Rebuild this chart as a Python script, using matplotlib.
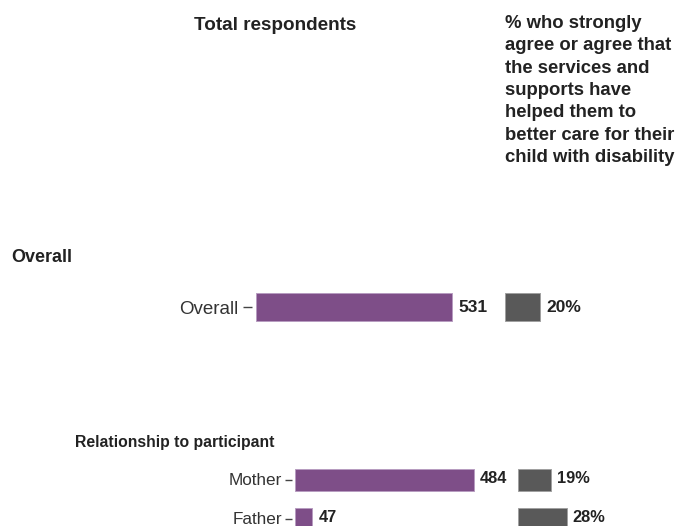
import matplotlib
matplotlib.use("Agg")
import matplotlib.pyplot as plt
from matplotlib.transforms import ScaledTranslation

# ---- data ----
overall_cats = ["Overall"]
overall_counts = [531]
overall_pct = [20]
rel_cats = ["Mother", "Father"]
rel_counts = [484, 47]
rel_pct = [19, 28]

W, H = 681, 526
PURPLE = "#7E4E88"
GRAY = "#595959"
TXT = "#222222"
FONT = "Liberation Sans"

fig = plt.figure(figsize=(W / 100, H / 100), dpi=100)
fig.patch.set_facecolor("white")


def rect(left, top, width, height):
    return [left / W, 1 - (top + height) / H, width / W, height / H]


COUNT_SCALE = 0.369  # px per respondent
PCT_SCALE = 1.74     # px per percent


def make_axes(left, top, n, row_px, xmax, scale):
    ax = fig.add_axes(rect(left, top, xmax * scale, n * row_px))
    ax.set_xlim(0, xmax)
    ax.set_ylim(n - 0.5, -0.5)
    for s in ax.spines.values():
        s.set_visible(False)
    ax.set_xticks([])
    ax.patch.set_alpha(0)
    return ax


def draw_group(cats, counts, pcts, left_c, left_p, top, row_px, bar_h,
               fs_cat, fs_val, tick_len, tick_pad, outward, off_c, off_p, lift=0):
    n = len(cats)
    axc = make_axes(left_c, top, n, row_px, 700, COUNT_SCALE)
    axp = make_axes(left_p, top, n, row_px, 60, PCT_SCALE)
    ys = list(range(n))
    axc.barh(ys, counts, height=bar_h, color=PURPLE, edgecolor="#b79cc0", linewidth=0.7)
    axp.barh(ys, pcts, height=bar_h, color=GRAY, edgecolor="#a0a0a0", linewidth=0.7)
    axc.spines["left"].set_position(("outward", outward))
    axc.set_yticks(ys)
    axc.set_yticklabels(cats, fontsize=fs_cat, color="#333333", family=FONT)
    axc.tick_params(axis="y", length=tick_len, width=1.0, color="#444444", pad=tick_pad)
    if lift:
        for lbl in axc.get_yticklabels():
            lbl.set_transform(lbl.get_transform() + ScaledTranslation(0, lift / 72, fig.dpi_scale_trans))
    axp.set_yticks([])
    for y, v in zip(ys, counts):
        axc.annotate(str(v), (v, y), xytext=(off_c, lift), textcoords="offset points",
                     va="center", ha="left", fontsize=fs_val, fontweight="bold",
                     color=TXT, family=FONT)
    for y, v in zip(ys, pcts):
        axp.annotate(f"{v}%", (v, y), xytext=(off_p, lift), textcoords="offset points",
                     va="center", ha="left", fontsize=fs_val, fontweight="bold",
                     color=TXT, family=FONT)


# Overall group
draw_group(overall_cats, overall_counts, overall_pct,
           left_c=256, left_p=505, top=307 - 30, row_px=60, bar_h=28 / 60,
           fs_cat=13.5, fs_val=12.5, tick_len=6.5, tick_pad=3.5, outward=3,
           off_c=5, off_p=4.5)
# Relationship group
draw_group(rel_cats, rel_counts, rel_pct,
           left_c=295, left_p=518, top=480 - 19.5, row_px=39, bar_h=21.5 / 39,
           fs_cat=12.3, fs_val=11.8, tick_len=5, tick_pad=1.5, outward=2.5,
           off_c=4.5, off_p=4, lift=0.8)

# ---- text ----
fig.text(194 / W, 1 - 26 / H, "Total respondents", fontsize=13.6, fontweight="bold",
         color=TXT, va="center", ha="left", family=FONT)
fig.text(505 / W, 1 - 15 / H,
         "% who strongly\nagree or agree that\nthe services and\nsupports have\nhelped them to\nbetter care for their\nchild with disability",
         fontsize=13.3, fontweight="bold", color=TXT, va="top", ha="left",
         linespacing=1.41, family=FONT)
fig.text(11 / W, 1 - 257 / H, "Overall", fontsize=13, fontweight="bold",
         color=TXT, va="center", ha="left", family=FONT)
fig.text(75 / W, 1 - 442 / H, "Relationship to participant", fontsize=11.3, fontweight="bold",
         color=TXT, va="center", ha="left", family=FONT)

fig.savefig("out.png", dpi=100, facecolor="white")
